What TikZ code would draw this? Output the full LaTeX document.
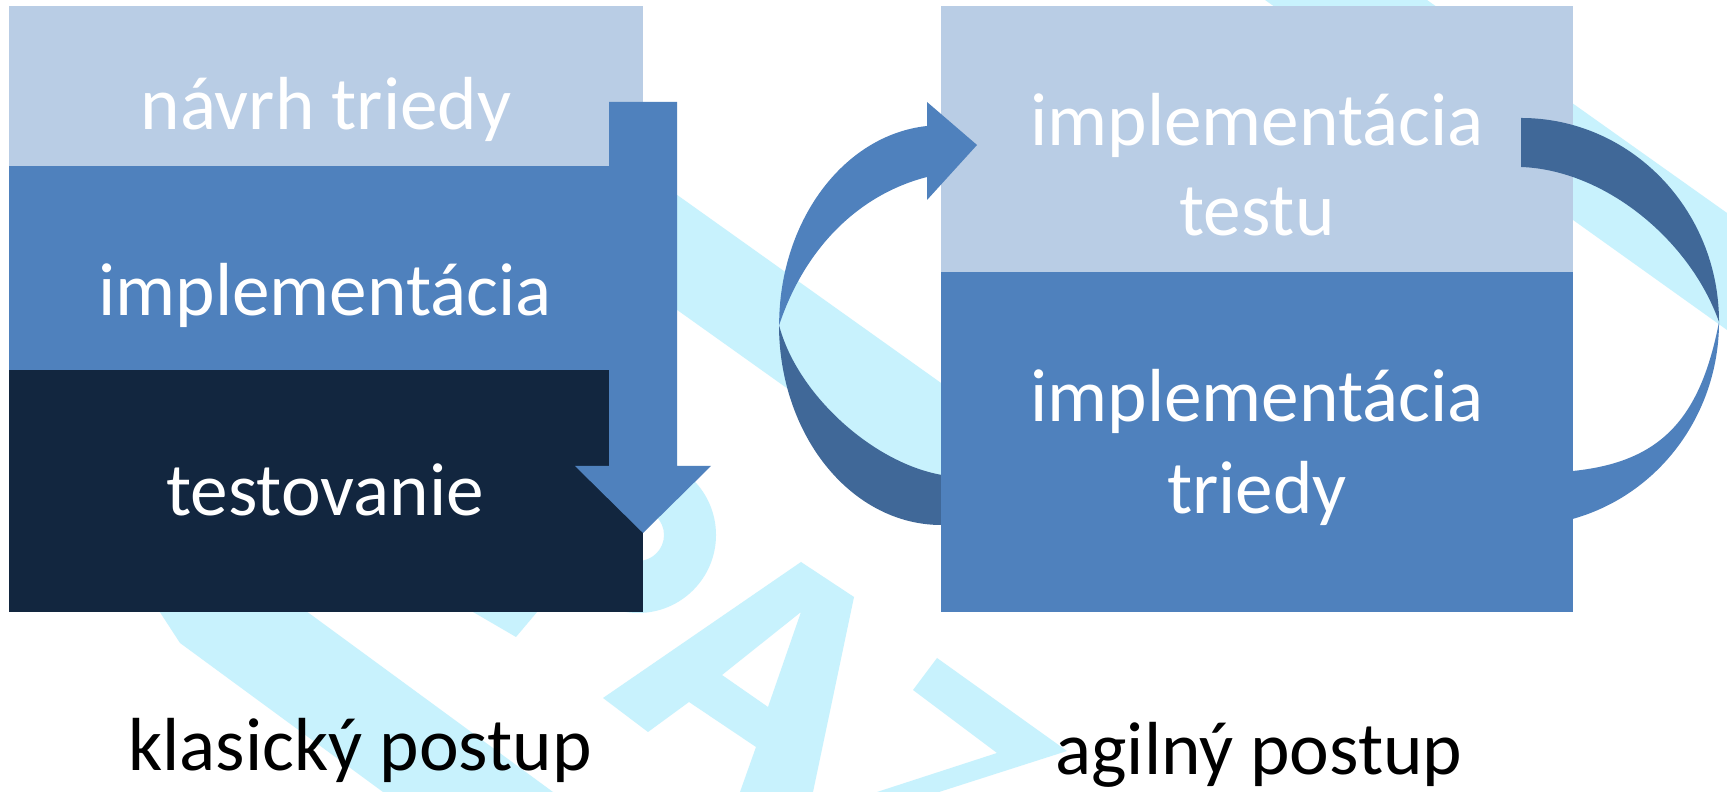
\documentclass[tikz,border=0pt]{standalone}
\usepackage{fontspec}
\setmainfont{Carlito}
\definecolor{paleblue}{HTML}{B9CDE5}
\definecolor{midblue}{HTML}{4F81BD}
\definecolor{shadeblue}{HTML}{406898}
\definecolor{navy}{HTML}{12263F}
\definecolor{wmcyan}{HTML}{C8F2FD}

\begin{document}
\begin{tikzpicture}[
  band/.style={fill=#1, inner sep=0pt, outer sep=0pt, anchor=north west},
  lbl/.style={font=\fontsize{21.4}{25.7}\selectfont, text=white, anchor=base, inner sep=0pt},
  ttl/.style={lbl, text=black},
  wm/.style={fill=wmcyan},
]

% Page
\useasboundingbox (0,0) rectangle (17.27,7.92);
\fill[white] (0,0) rectangle (17.27,7.92);

% Watermark behind everything
\fill[wm] (1.52,1.92) -- (2.91,1.92) -- (5.53,0) -- (3.83,0) -- (1.80,1.49) -- cycle;
\fill[wm] (4.61,1.87) -- (5.43,1.87) -- (5.16,1.55) -- cycle;
\fill[wm, even odd rule] (6.38,2.57) circle (0.78) (6.38,2.57) circle (0.26);
\fill[wm, even odd rule] (8.01,2.30) -- (8.54,1.95) -- (8.13,0) -- (7.40,0) -- (7.56,0.45)
  -- (6.89,0.90) -- (6.48,0.60) -- (6.03,0.94) -- cycle
  (8.01,1.80) -- (7.68,0.85) -- (7.22,1.17) -- cycle;
\fill[wm] (9.37,1.34) -- (10.67,0.41) -- (9.39,0) -- (8.77,0) -- (9.97,0.39) -- (9.13,1.02) -- cycle;
\fill[wm] (6.00,6.52) -- (10.00,3.67) -- (10.00,2.52) -- (6.00,5.37) -- cycle;
\fill[wm] (12.65,7.92) -- (14.27,7.92) -- (17.27,5.79) -- (17.27,4.62) -- cycle;

% Back halves of the loop arrows
\fill[shadeblue] (7.79,4.67) arc[start angle=180, end angle=275, x radius=1.62, y radius=2]
  -- (9.45,3.165) .. controls (8.75,3.27) and (7.97,3.97) .. (7.79,4.67) -- cycle;
\fill[midblue] (17.19,4.70) arc[start angle=0, end angle=-95, x radius=1.98, y radius=2.04]
  -- (15.73,3.21) .. controls (16.60,3.30) and (17.00,3.72) .. (17.19,4.70) -- cycle;

% Classic column
\node[band=paleblue, minimum width=6.34cm, minimum height=1.60cm] (navrh) at (0.09,7.86) {};
\node[band=midblue, minimum width=6.34cm, minimum height=2.04cm] (impl) at (navrh.south west) {};
\node[band=navy, minimum width=6.34cm, minimum height=2.42cm] (test) at (impl.south west) {};

% Agile column
\node[band=paleblue, minimum width=6.32cm, minimum height=2.66cm] (itest) at (9.41,7.86) {};
\node[band=midblue, minimum width=6.32cm, minimum height=3.40cm] (itrieda) at (itest.south west) {};

% Down arrow over the classic column
\fill[midblue] (6.09,6.90) -- (6.77,6.90) -- (6.77,3.26) -- (7.11,3.26) -- (6.43,2.59)
  -- (5.75,3.26) -- (6.09,3.26) -- cycle;

% Front halves of the loop arrows
\fill[midblue] (9.27,6.15) -- (9.27,5.92) -- (9.77,6.47) -- (9.27,6.90) -- (9.27,6.66)
  arc[start angle=95, end angle=180, x radius=1.62, y radius=2]
  .. controls (8.04,5.42) and (8.57,5.97) .. (9.27,6.15) -- cycle;
\fill[shadeblue] (15.21,6.25) -- (15.21,6.74)
  arc[start angle=90, end angle=0, x radius=1.98, y radius=2.04]
  .. controls (16.90,5.52) and (16.05,6.22) .. (15.21,6.25) -- cycle;

% Labels
\node[lbl] (tnavrh) at (3.26,6.62) {návrh triedy};
\node[lbl] (timpl) at (3.25,4.76) {implementácia};
\node[lbl] (ttest) at (3.25,2.76) {testovanie};
\node[lbl] (titest1) at (12.57,6.46) {implementácia};
\node[lbl] (titest2) at (12.57,5.56) {testu};
\node[lbl] (titr1) at (12.57,3.70) {implementácia};
\node[lbl] (titr2) at (12.57,2.78) {triedy};

\node[ttl] (klasicky) at (3.60,0.21) {klasický postup};
\node[ttl] (agilny) at (12.59,0.17) {agilný postup};

\end{tikzpicture}
\end{document}
